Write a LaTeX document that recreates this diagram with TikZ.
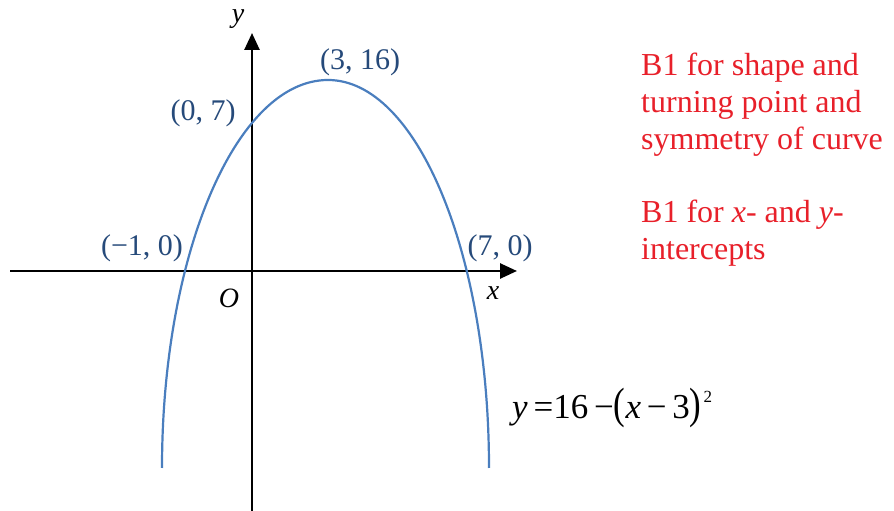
\documentclass[tikz,border=0pt]{standalone}
\usepackage{fontspec}
\setmainfont{Liberation Serif}
\usetikzlibrary{arrows.meta}
\definecolor{curveblue}{RGB}{74,126,190}
\definecolor{labelblue}{RGB}{38,74,122}
\definecolor{markred}{RGB}{232,32,42}
\tikzset{
  axisline/.style={line width=2.6pt,-{Triangle[length=17pt,width=15pt]}},
  ptlabel/.style={text=labelblue,font=\fontsize{30}{34}\selectfont,inner sep=0pt},
  axlabel/.style={font=\fontsize{28}{32}\selectfont\itshape,inner sep=0pt},
  marktext/.style={text=markred,font=\fontsize{32}{37}\selectfont,align=left,anchor=north west,inner sep=0pt}
}
\begin{document}
\begin{tikzpicture}[x=1pt,y=1pt]
  \useasboundingbox (0,0) rectangle (894,511);
  \coordinate (XL) at (10,240); \coordinate (XR) at (517,240);
  \coordinate (YB) at (252,0); \coordinate (YT) at (252,478);
  \draw[axisline] (XL)--(XR); \draw[axisline] (YB)--(YT);
  \draw[curveblue,line width=2.2pt] (162,43) arc[start angle=180,end angle=90,x radius=166,y radius=388]
    arc[start angle=90,end angle=0,x radius=161,y radius=388];
  \node[axlabel] (ylab) at (238,492) {y};
  \node[axlabel] (xlab) at (493,218) {x};
  \node[axlabel] (olab) at (229,213) {O};
  \node[ptlabel] (pa) at (142,263) {(−1, 0)};
  \node[ptlabel] (pb) at (500,263) {(7, 0)};
  \node[ptlabel] (pc) at (203,398) {(0, 7)};
  \node[ptlabel] (pd) at (360,449) {(3, 16)};
  \node[anchor=west,inner sep=0pt,font=\fontsize{35}{38}\selectfont] (eqn) at (512,103)
    {\textit{y}\,=16\,−\scalebox{1}[1.25]{(}\textit{x}\,−\,3\scalebox{1}[1.25]{)}\kern2pt\raisebox{16pt}{\fontsize{17}{20}\selectfont 2}};
  \node[marktext] (mka) at (641,458.5) {B1 for shape and\\turning point and\\symmetry of curve};
  \node[marktext] (mkb) at (641,311.5) {B1 for \textit{x}- and \textit{y}-\\intercepts};
\end{tikzpicture}
\end{document}
